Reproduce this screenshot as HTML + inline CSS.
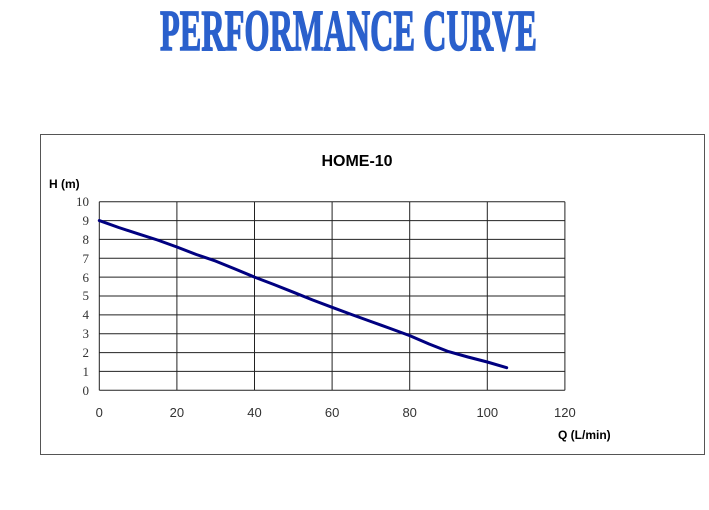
<!DOCTYPE html>
<html><head><meta charset="utf-8"><style>body{margin:0;background:#fff}svg{display:block}</style></head>
<body>
<svg width="709" height="510" xmlns="http://www.w3.org/2000/svg">
<rect width="709" height="510" fill="#fff"/>
<text x="160" y="50" font-family="Liberation Serif, serif" font-weight="bold" font-size="58" fill="#2a60cc" stroke="#2a60cc" stroke-width="1.5" textLength="377" lengthAdjust="spacingAndGlyphs">PERFORMANCE CURVE</text>
<rect x="40.5" y="134.5" width="664" height="320" fill="#fff" stroke="#555" stroke-width="1"/>
<text x="357" y="166" text-anchor="middle" font-family="Liberation Sans, sans-serif" font-weight="bold" font-size="16" fill="#000">HOME-10</text>
<text x="49" y="188" font-family="Liberation Sans, sans-serif" font-weight="bold" font-size="12" fill="#000">H (m)</text>
<text x="558" y="439" font-family="Liberation Sans, sans-serif" font-weight="bold" font-size="12" fill="#000">Q (L/min)</text>
<g stroke="#222" stroke-width="1">
<line x1="99.3" y1="201.7" x2="99.3" y2="390.3"/>
<line x1="176.9" y1="201.7" x2="176.9" y2="390.3"/>
<line x1="254.5" y1="201.7" x2="254.5" y2="390.3"/>
<line x1="332.1" y1="201.7" x2="332.1" y2="390.3"/>
<line x1="409.7" y1="201.7" x2="409.7" y2="390.3"/>
<line x1="487.3" y1="201.7" x2="487.3" y2="390.3"/>
<line x1="564.9" y1="201.7" x2="564.9" y2="390.3"/>
<line x1="99.3" y1="201.7" x2="564.9" y2="201.7"/>
<line x1="99.3" y1="220.6" x2="564.9" y2="220.6"/>
<line x1="99.3" y1="239.4" x2="564.9" y2="239.4"/>
<line x1="99.3" y1="258.3" x2="564.9" y2="258.3"/>
<line x1="99.3" y1="277.1" x2="564.9" y2="277.1"/>
<line x1="99.3" y1="296" x2="564.9" y2="296"/>
<line x1="99.3" y1="314.9" x2="564.9" y2="314.9"/>
<line x1="99.3" y1="333.7" x2="564.9" y2="333.7"/>
<line x1="99.3" y1="352.6" x2="564.9" y2="352.6"/>
<line x1="99.3" y1="371.4" x2="564.9" y2="371.4"/>
<line x1="99.3" y1="390.3" x2="564.9" y2="390.3"/>
</g>
<g font-family="Liberation Serif, serif" font-size="13" fill="#333" text-anchor="end">
<text x="89" y="206">10</text><text x="89" y="225">9</text><text x="89" y="244">8</text><text x="89" y="263">7</text><text x="89" y="282">6</text><text x="89" y="300">5</text><text x="89" y="319">4</text><text x="89" y="338">3</text><text x="89" y="357">2</text><text x="89" y="376">1</text><text x="89" y="395">0</text>
</g>
<g font-family="Liberation Sans, sans-serif" font-size="13" fill="#333" text-anchor="middle">
<text x="99.3" y="417">0</text><text x="176.9" y="417">20</text><text x="254.5" y="417">40</text><text x="332.1" y="417">60</text><text x="409.7" y="417">80</text><text x="487.3" y="417">100</text><text x="564.9" y="417">120</text>
</g>
<polyline fill="none" stroke="#000080" stroke-width="3" stroke-linejoin="round" stroke-linecap="round"
points="99.3,220.6 118.7,227.5 138.1,233.8 157.5,240 176.9,247 196.3,254.5 215.7,261.1 235.1,269 254.5,277.1 273.9,284.5 293.3,292.2 312.7,300 332.1,307.3 351.5,314.5 370.9,321.5 390.3,328.5 409.7,335.6 429.1,344 448.5,351.6 467.9,357 487.3,362 506.7,367.7"/>
</svg>
</body></html>
